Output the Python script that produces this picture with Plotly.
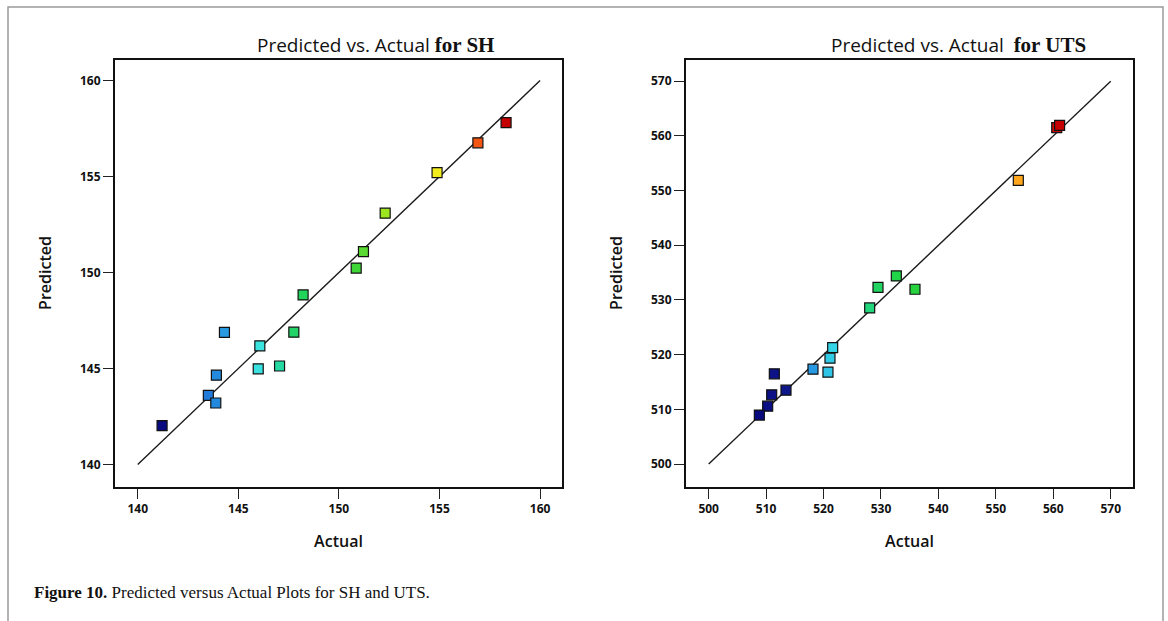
import plotly.graph_objects as go

# --- SH (surface hardness) ---
sh_actual = [158.31, 156.91, 154.88, 152.30, 151.22, 150.86, 148.22, 147.76,
             147.05, 146.07, 145.99, 144.31, 143.91, 143.51, 143.88, 141.21]
sh_predicted = [157.81, 156.76, 155.21, 153.09, 151.09, 150.23, 148.83, 146.89,
                145.13, 146.18, 144.98, 146.88, 144.65, 143.60, 143.20, 142.02]
sh_ticks = [140, 145, 150, 155, 160]

# --- UTS (ultimate tensile strength) ---
uts_actual = [560.6, 561.1, 553.91, 532.67, 529.48, 535.92, 528.03, 521.59,
              521.12, 520.77, 518.16, 511.43, 513.46, 510.97, 510.27, 508.82]
uts_predicted = [561.5, 561.9, 551.86, 534.39, 532.32, 531.96, 528.54, 521.29,
                 519.36, 516.80, 517.35, 516.49, 513.51, 512.66, 510.59, 508.95]
uts_ticks = [500, 510, 520, 530, 540, 550, 560, 570]

W, H = 1168, 621

# response colour ramp (low = navy, high = red)
ramp = [
    [0.00, "#0a0a80"], [0.10, "#101a8c"], [0.13, "#1f78d8"], [0.20, "#2aa6e6"],
    [0.25, "#34dbe6"], [0.30, "#3ee6dc"], [0.34, "#26d8a4"], [0.38, "#22d468"],
    [0.45, "#1fd548"], [0.55, "#2cd23c"], [0.60, "#6cdc2c"], [0.66, "#a8e61e"],
    [0.80, "#f2ec1c"], [0.87, "#ff9c1e"], [0.93, "#f04410"], [1.00, "#c40000"],
]

SANS = "Open Sans"
SERIF = "Liberation Serif"


def px_x(p):
    return p / W


def px_y(p):
    return 1 - p / H


fig = go.Figure()

panels = [
    dict(ax="", act=sh_actual, pred=sh_predicted, ticks=sh_ticks,
         rng_x=[138.87, 161.09], rng_y=[138.85, 161.1],
         dom_x=[px_x(115), px_x(562)], tag="SH", sep=" "),
    dict(ax="2", act=uts_actual, pred=uts_predicted, ticks=uts_ticks,
         rng_x=[496.05, 573.88], rng_y=[495.9, 573.96],
         dom_x=[px_x(686), px_x(1133)], tag="UTS", sep="&nbsp;&nbsp;"),
]

dom_y = [px_y(486.5), px_y(59.5)]

for p in panels:
    lo, hi = p["ticks"][0], p["ticks"][-1]
    # 45-degree reference line
    fig.add_trace(go.Scatter(
        x=[lo, hi], y=[lo, hi], mode="lines",
        line=dict(color="#1a1a1a", width=1.4),
        xaxis="x" + p["ax"], yaxis="y" + p["ax"], showlegend=False,
        hoverinfo="skip",
    ))
    fig.add_trace(go.Scatter(
        x=p["act"], y=p["pred"], mode="markers",
        marker=dict(symbol="square", size=10, color=p["act"],
                    colorscale=ramp, cmin=min(p["act"]), cmax=max(p["act"]),
                    line=dict(color="#111111", width=1.2)),
        xaxis="x" + p["ax"], yaxis="y" + p["ax"], showlegend=False,
    ))

axis_common = dict(
    showline=True, linecolor="#111111", linewidth=2, mirror=True,
    ticks="outside", ticklen=10, tickwidth=1.2, tickcolor="#222222",
    showgrid=False, zeroline=False,
    tickfont=dict(family=SANS, size=12, color="#111111", weight="bold"),
)

layout = dict(
    width=W, height=H,
    margin=dict(l=0, r=0, t=0, b=0),
    paper_bgcolor="white", plot_bgcolor="white",
    showlegend=False,
)

for p in panels:
    a = p["ax"]
    layout["xaxis" + a] = dict(
        axis_common, domain=p["dom_x"], range=p["rng_x"],
        tickvals=p["ticks"], anchor="y" + a,
        title=dict(text="Actual", standoff=20,
                   font=dict(family=SANS, size=16, color="#111111", weight=600)),
    )
    layout["yaxis" + a] = dict(
        axis_common, domain=dom_y, range=p["rng_y"],
        tickvals=p["ticks"], anchor="x" + a,
        title=dict(text="Predicted", standoff=24,
                   font=dict(family=SANS, size=16, color="#111111", weight=600)),
    )

fig.update_layout(**layout)

annotations = []
for p, cx in zip(panels, [375, 958]):
    annotations.append(dict(
        xref="paper", yref="paper", x=px_x(cx), y=px_y(45),
        xanchor="center", yanchor="middle", showarrow=False,
        text=("Predicted vs. Actual" + p["sep"] +
              "<span style='font-family:Liberation Serif;font-weight:bold;font-size:21px'>"
              "for " + p["tag"] + "</span>"),
        font=dict(family=SANS, size=19, color="#111111"),
    ))

annotations.append(dict(
    xref="paper", yref="paper", x=px_x(32), y=px_y(592),
    xanchor="left", yanchor="middle", showarrow=False,
    text="<b>Figure 10.</b> Predicted versus Actual Plots for SH and UTS.",
    font=dict(family=SERIF, size=17, color="#111111"),
))
fig.update_layout(annotations=annotations)

# page frame around the figure
fig.add_shape(
    type="path", xref="paper", yref="paper",
    path=(f"M {px_x(8)} {px_y(621)} L {px_x(8)} {px_y(7)} "
          f"L {px_x(1163)} {px_y(7)} L {px_x(1163)} {px_y(621)}"),
    line=dict(color="#9a9a9a", width=1.5),
)

fig.write_html("out.html")
